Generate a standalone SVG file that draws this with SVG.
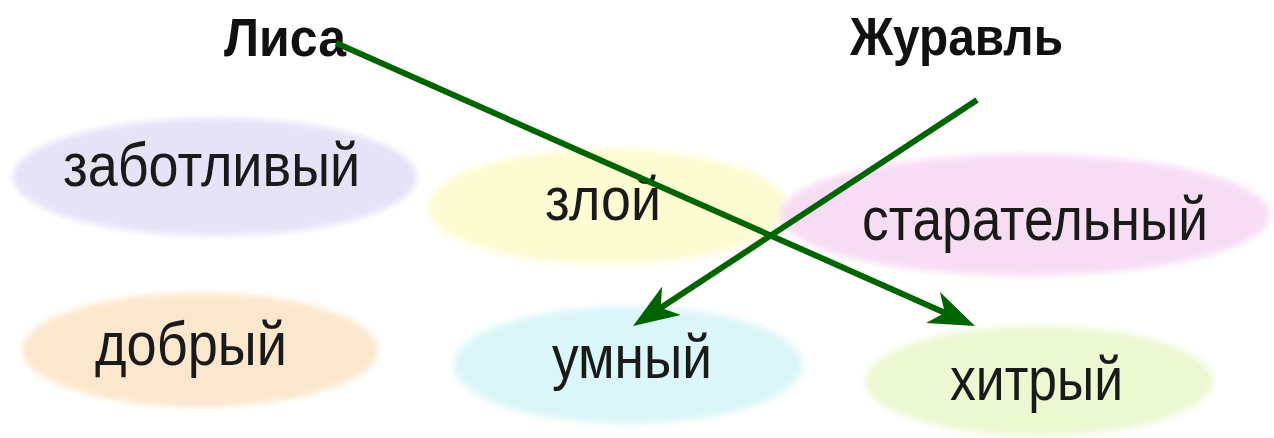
<svg xmlns="http://www.w3.org/2000/svg" width="1274" height="438" viewBox="0 0 1274 438">
<style>
.title{font-family:"Liberation Sans",Arial,sans-serif;font-weight:bold;font-size:54px;fill:#111}
.word{font-family:"Liberation Sans",Arial,sans-serif;font-size:62px;fill:#1a1a1a}
.edge{stroke:#006400;stroke-width:6;fill:none;marker-end:url(#ah)}
</style>
<defs>
<filter id="soft" x="-10%" y="-20%" width="120%" height="140%"><feGaussianBlur stdDeviation="3"/></filter>
<marker id="ah" markerUnits="userSpaceOnUse" viewBox="0 -17 46 34" refX="16" refY="0" markerWidth="46" markerHeight="34" orient="auto">
<path d="M0,-17 L46,0 L0,17 L13,0 Z" fill="#006400"/>
</marker>
</defs>
<rect width="1274" height="438" fill="#ffffff"/>
<g id="title-lisa"><text class="title" x="224" y="56" textLength="122" lengthAdjust="spacingAndGlyphs">Лиса</text></g>
<g id="title-zhuravl"><text class="title" x="850" y="55" textLength="213" lengthAdjust="spacingAndGlyphs">Журавль</text></g>
<g id="n-zabotlivy"><ellipse cx="215" cy="177" rx="202" ry="59" fill="#e6e2f8" filter="url(#soft)"/><text class="word" x="63" y="186" textLength="297" lengthAdjust="spacingAndGlyphs">заботливый</text></g>
<g id="n-zloy"><ellipse cx="608" cy="207" rx="180" ry="58" fill="#fdfbd2" filter="url(#soft)"/><text class="word" x="545" y="220" textLength="116" lengthAdjust="spacingAndGlyphs">злой</text></g>
<g id="n-staratelny"><ellipse cx="1025" cy="215" rx="245" ry="61" fill="#f7ddf4" filter="url(#soft)"/><text class="word" x="862" y="240" textLength="346" lengthAdjust="spacingAndGlyphs">старательный</text></g>
<g id="n-dobry"><ellipse cx="200" cy="350" rx="178" ry="57" fill="#fbe7cd" filter="url(#soft)"/><text class="word" x="95" y="365" textLength="192" lengthAdjust="spacingAndGlyphs">добрый</text></g>
<g id="n-umny"><ellipse cx="628" cy="365" rx="175" ry="59" fill="#dbf6f8" filter="url(#soft)"/><text class="word" x="552" y="378" textLength="160" lengthAdjust="spacingAndGlyphs">умный</text></g>
<g id="n-hitry"><ellipse cx="1039" cy="381" rx="174" ry="55" fill="#ebf8d2" filter="url(#soft)"/><text class="word" x="950" y="400" textLength="173" lengthAdjust="spacingAndGlyphs">хитрый</text></g>
<g id="connectors">
<line class="edge" x1="336" y1="43" x2="947.6" y2="313.9"/>
<line class="edge" x1="977" y1="100" x2="658.1" y2="309.5"/>
</g>
</svg>
